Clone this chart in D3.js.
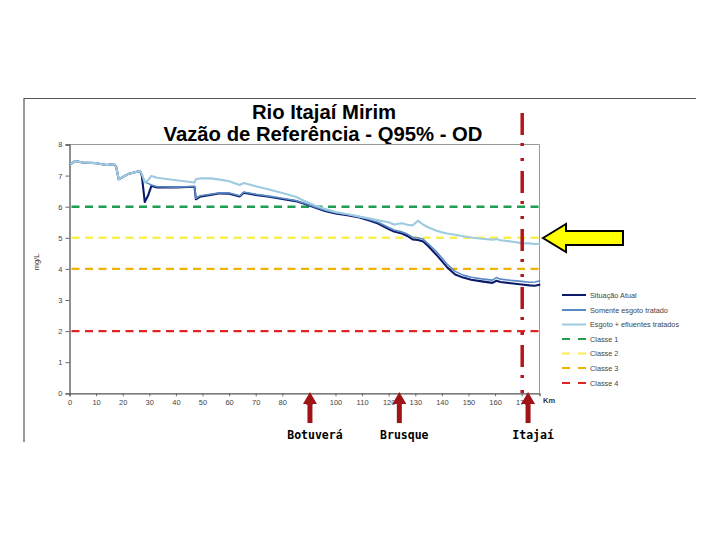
<!DOCTYPE html>
<html><head><meta charset="utf-8">
<script src="https://cdn.jsdelivr.net/npm/d3@7"></script>
<style>body{margin:0;background:#fff}svg{display:block}</style>
</head><body>
<svg id="c" width="720" height="540"></svg>
<script>
const titleLines = ["Rio Itajaí Mirim", "Vazão de Referência - Q95% - OD"];
const km = [0,1,2,5,10,14,16.5,17.5,18.5,22,26.5,27.2,28.3,29.5,30.8,33,40,47,47.5,49,53,56.6,60,64,65.5,70,75,80,85,88,92,96,100,105,109,113,116,120,122,125,127,129,131,133,135,138,140,142,145,148,151,155,159,160.5,162,166,170,173,175,177];
const esgotoEfluentes = [7.38,7.40,7.47,7.42,7.40,7.34,7.37,7.30,6.88,7.05,7.15,7.05,6.78,6.85,6.99,6.93,6.85,6.78,6.88,6.91,6.91,6.87,6.82,6.70,6.76,6.66,6.55,6.44,6.32,6.20,6.05,5.93,5.83,5.75,5.68,5.62,5.56,5.50,5.43,5.47,5.42,5.40,5.55,5.42,5.33,5.23,5.18,5.14,5.10,5.05,5.01,4.97,4.94,4.96,4.92,4.88,4.83,4.82,4.80,4.81];
const somenteEsgoto = [7.38,7.40,7.47,7.42,7.40,7.34,7.37,7.30,6.88,7.05,7.15,7.05,6.80,6.75,6.70,6.64,6.63,6.65,6.27,6.35,6.40,6.45,6.44,6.35,6.47,6.40,6.34,6.27,6.20,6.12,6.00,5.89,5.81,5.75,5.68,5.58,5.50,5.33,5.25,5.19,5.12,5.02,5.00,4.95,4.80,4.55,4.35,4.15,3.92,3.80,3.73,3.68,3.64,3.72,3.67,3.63,3.60,3.57,3.58,3.62];
const situacaoAtual = [7.38,7.40,7.47,7.42,7.40,7.34,7.37,7.30,6.88,7.05,7.15,7.00,6.15,6.35,6.67,6.62,6.62,6.64,6.24,6.32,6.38,6.43,6.42,6.33,6.45,6.38,6.32,6.25,6.18,6.10,5.98,5.86,5.78,5.72,5.65,5.55,5.46,5.28,5.20,5.14,5.06,4.95,4.93,4.88,4.72,4.45,4.25,4.05,3.82,3.72,3.65,3.60,3.55,3.62,3.58,3.54,3.50,3.47,3.46,3.50];
const seriesNames = ["Situação Atual","Somente esgoto tratado","Esgoto + efluentes tratados"];
const seriesColors = ["#0c1a6a","#5a8ac6","#9ecbe0"];
const classNames = ["Classe 1","Classe 2","Classe 3","Classe 4"];
const classValues = [6,5,4,2];
const classColors = ["#1e9e50","#f8f050","#f0b400","#e02424"];
const xTicks = [0,10,20,30,40,50,60,70,80,90,100,110,120,130,140,150,160,170];
const yTicks = [0,1,2,3,4,5,6,7,8];
const cities = ["Botuverá","Brusque","Itajaí"];
const cityKm = [90.4,124,172.4];
const refKm = 170.2;

const svg = d3.select("#c");
const x = d3.scaleLinear().domain([0,176.7]).range([69.5,539.5]);
const y = d3.scaleLinear().domain([0,8]).range([393.3,144.5]);

// outer frame
svg.append("path").attr("d","M24,442 V98.5 H696").attr("fill","none").attr("stroke","#555").attr("stroke-width",1.2);

// titles
svg.append("text").attr("x",324).attr("y",119).attr("text-anchor","middle")
  .attr("font-family","Liberation Sans, Arial").attr("font-weight","bold").attr("font-size",20.3).text(titleLines[0]);
svg.append("text").attr("x",323).attr("y",140.5).attr("text-anchor","middle")
  .attr("font-family","Liberation Sans, Arial").attr("font-weight","bold").attr("font-size",20.3).text(titleLines[1]);

// plot border (top/right)
svg.append("path").attr("d",`M${x.range()[0]},${y(8)} H${x.range()[1]} V${y(0)}`).attr("fill","none").attr("stroke","#999").attr("stroke-width",1);

// axes
const yAxis = svg.append("g").attr("transform",`translate(${x.range()[0]},0)`)
  .call(d3.axisLeft(y).tickValues(yTicks).tickSize(4).tickPadding(3));
const xAxis = svg.append("g").attr("transform",`translate(0,${y(0)})`)
  .call(d3.axisBottom(x).tickValues(xTicks).tickSize(3).tickPadding(3));
[yAxis,xAxis].forEach(g=>{
  g.select(".domain").attr("stroke","#555").attr("stroke-width",1.3);
  g.selectAll(".tick line").attr("stroke","#666");
  g.selectAll("text").attr("font-family","Liberation Sans, Arial").attr("font-size",7.5).attr("fill","#444");
});
svg.append("text").attr("x",543).attr("y",403).attr("font-family","Liberation Sans, Arial").attr("font-size",7.5).attr("font-weight","bold").attr("fill","#333").text("Km");
svg.append("text").attr("transform","translate(39,262) rotate(-90)").attr("text-anchor","middle")
  .attr("font-family","Liberation Sans, Arial").attr("font-size",7.5).attr("fill","#333").text("mg/L");

// class lines
classValues.forEach((v,i)=>{
  svg.append("line").attr("x1",x(0)+2).attr("x2",x.range()[1]).attr("y1",y(v)).attr("y2",y(v))
    .attr("stroke",classColors[i]).attr("stroke-width",2.4).attr("stroke-dasharray","8,5.5");
});

// series
const allSeries = [situacaoAtual, somenteEsgoto, esgotoEfluentes];
const widths = [2.1,1.6,2.1];
allSeries.forEach((s,i)=>{
  const line = d3.line().x((d,j)=>x(km[j])).y(d=>y(d));
  svg.append("path").datum(s).attr("d",line).attr("fill","none")
    .attr("stroke",seriesColors[i]).attr("stroke-width",widths[i]).attr("stroke-linejoin","round");
});

// legend
const lg = svg.append("g");
const rowY = [295,310,324.5,339,353.5,368,383];
seriesNames.forEach((n,i)=>{
  lg.append("line").attr("x1",562).attr("x2",586).attr("y1",rowY[i]).attr("y2",rowY[i]).attr("stroke",seriesColors[i]).attr("stroke-width",2);
  lg.append("text").attr("x",590).attr("y",rowY[i]+2.5).attr("font-family","Liberation Sans, Arial").attr("font-size",7.3).attr("fill","#444").text(n);
});
classNames.forEach((n,i)=>{
  const yy = rowY[i+3];
  lg.append("line").attr("x1",562).attr("x2",586).attr("y1",yy).attr("y2",yy).attr("stroke",classColors[i]).attr("stroke-width",2.2).attr("stroke-dasharray","8,8");
  lg.append("text").attr("x",590).attr("y",yy+2.5).attr("font-family","Liberation Sans, Arial").attr("font-size",7.3).attr("fill","#444").text(n);
});

// reference vertical dash-dot line
svg.append("line").attr("x1",x(refKm)).attr("x2",x(refKm)).attr("y1",113).attr("y2",396)
  .attr("stroke","#b5161c").attr("stroke-width",3.5).attr("stroke-dasharray","22,8,3,12,3,10");

// city arrows
cities.forEach((c,i)=>{
  const cx = x(cityKm[i]);
  const g = svg.append("g");
  g.append("path").attr("d",`M${cx},392 L${cx+7},404 L${cx+2.5},404 L${cx+2.5},423 L${cx-2.5},423 L${cx-2.5},404 L${cx-7},404 Z`).attr("fill","#a01418");
  g.append("text").attr("x",cx+5).attr("y",439).attr("text-anchor","middle")
    .attr("font-family","DejaVu Sans Mono").attr("font-weight","bold").attr("font-size",11.5).attr("fill","#000").text(c);
});

// yellow arrow annotation
svg.append("path").attr("d","M543,238 L566,224 L566,231 L623,231 L623,245 L566,245 L566,252 Z")
  .attr("fill","#ffff00").attr("stroke","#000").attr("stroke-width",2).attr("stroke-linejoin","miter");
</script>
</body></html>
